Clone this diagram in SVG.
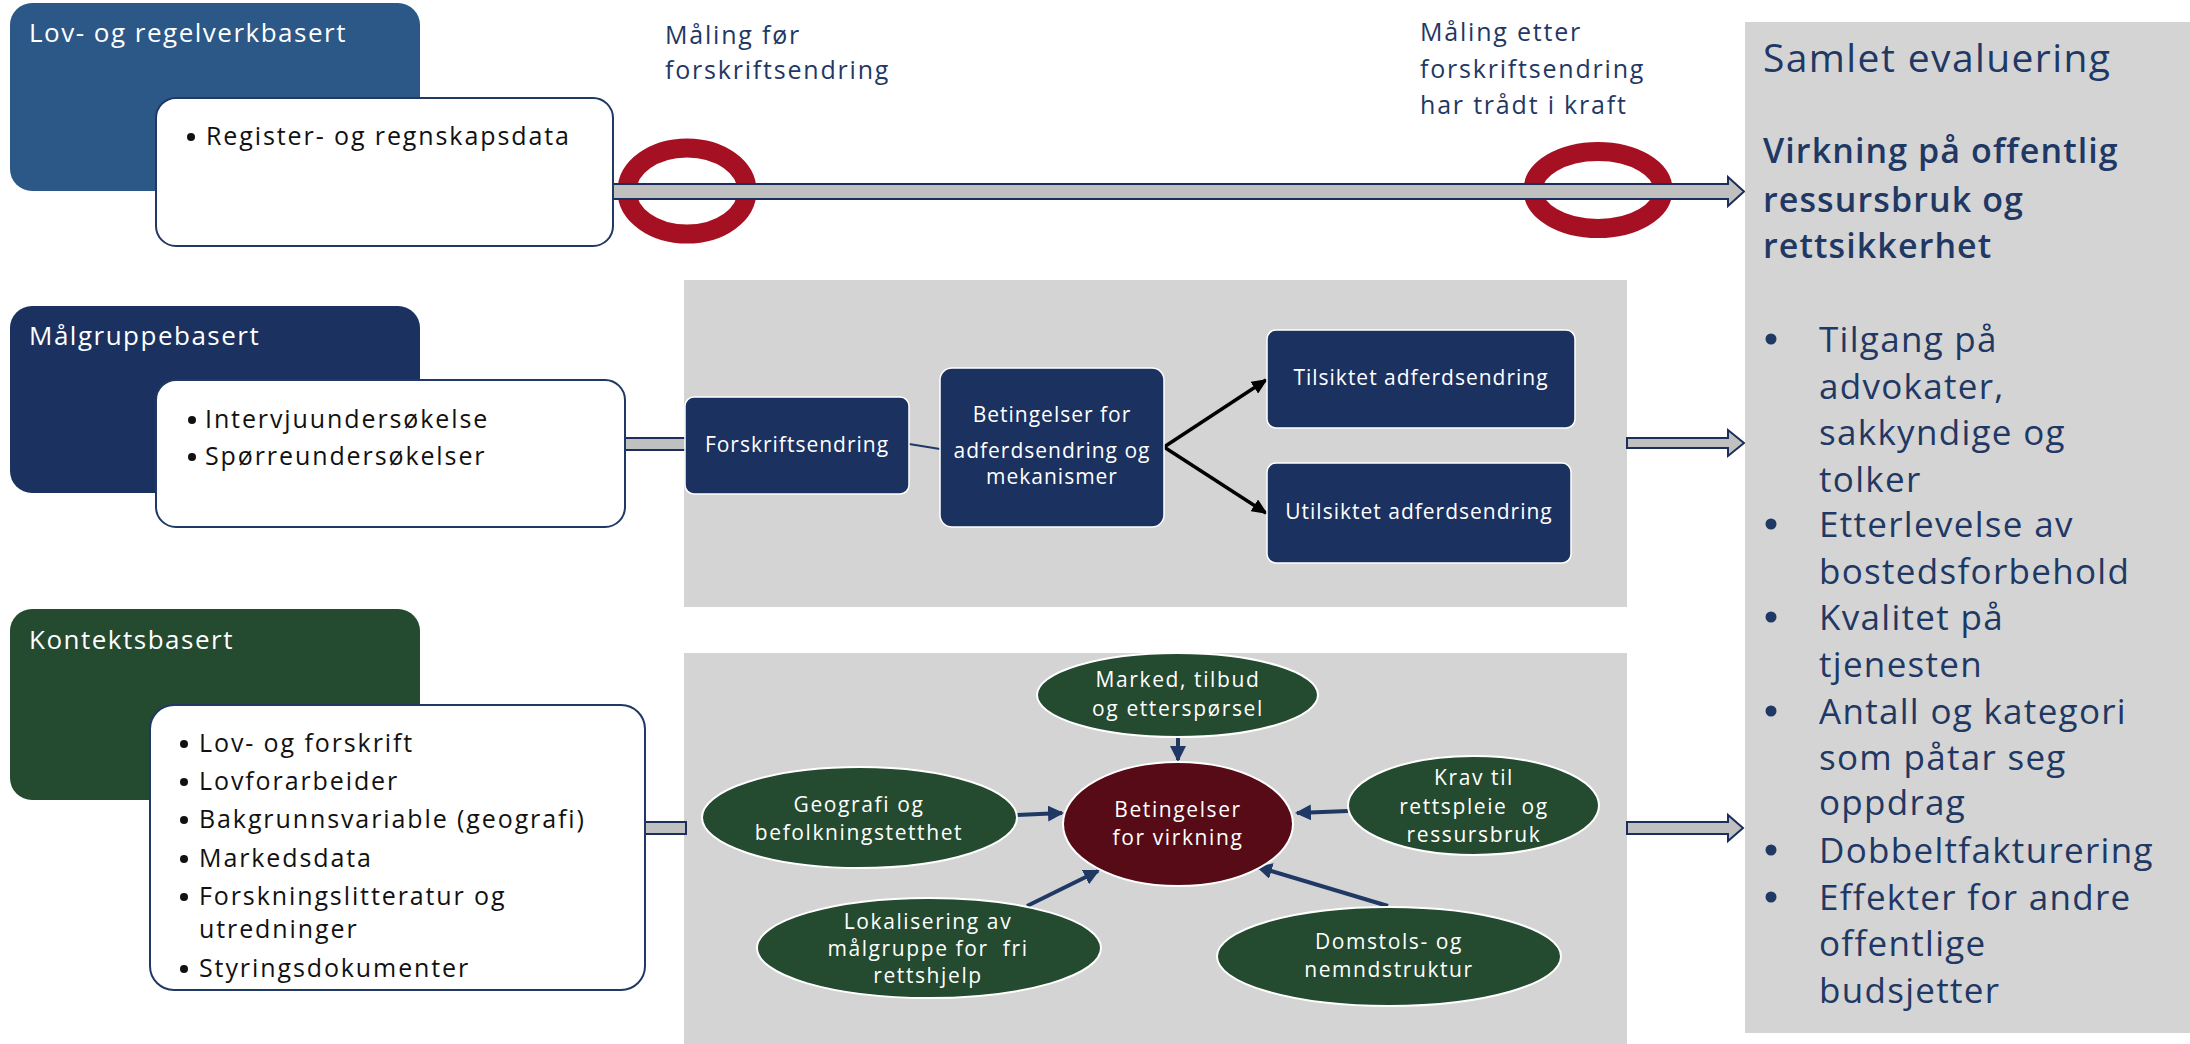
<svg xmlns="http://www.w3.org/2000/svg" width="2190" height="1044" viewBox="0 0 2190 1044">
<style>
  text { font-family: "Open Sans", "Liberation Sans", sans-serif; }
  .hdr { font-size: 26px; fill: #ffffff; letter-spacing: 1.5px; }
  .bul { font-size: 25px; fill: #111111; letter-spacing: 1.9px; }
  .dot { fill: #111111; }
  .meas { font-size: 25px; fill: #1f3864; letter-spacing: 1.8px; }
  .box { font-size: 21px; fill: #ffffff; letter-spacing: 1px; text-anchor: middle; }
  .ell { font-size: 21px; fill: #ffffff; letter-spacing: 1.6px; text-anchor: middle; }
  .rtitle { font-size: 39px; fill: #1f3864; letter-spacing: 1.4px; }
  .rhead { font-size: 34px; font-weight: 600; fill: #1f3864; letter-spacing: 1.1px; }
  .rbul { font-size: 35px; fill: #1f3864; letter-spacing: 1.3px; }
  .rdot { fill: #1f3864; }
  .whitebox { fill: #ffffff; stroke: #1f3864; stroke-width: 2; }
  .navybox { fill: #1b3160; stroke: #ffffff; stroke-width: 1.5; }
  .greenell { fill: #244a2f; stroke: #ffffff; stroke-width: 2; }
  .panel { fill: #d4d4d4; }
  .block { fill: #c0c0c0; stroke: #1b2f5a; stroke-width: 2; stroke-linejoin: miter; }
  .ring { fill: none; stroke: #a61023; stroke-width: 19; }
  .blk { stroke: #000000; stroke-width: 3.5; fill: none; }
  .nav { stroke: #1f3864; stroke-width: 4; fill: none; }
</style>
<defs>
  <marker id="ahBlack" markerUnits="userSpaceOnUse" markerWidth="16" markerHeight="14" refX="14" refY="7" orient="auto">
    <path d="M0,0 L16,7 L0,14 z" fill="#000000"/>
  </marker>
  <marker id="ahNavy" markerUnits="userSpaceOnUse" markerWidth="16" markerHeight="16" refX="14" refY="8" orient="auto">
    <path d="M0,0 L16,8 L0,16 z" fill="#1f3864"/>
  </marker>
</defs>

<rect x="0" y="0" width="2190" height="1044" fill="#ffffff"/>

<!-- panels -->
<g id="panel-malgruppe"><rect class="panel" x="684" y="280" width="943" height="327"/></g>
<g id="panel-kontekst"><rect class="panel" x="684" y="653" width="943" height="391"/></g>

<!-- measurement rings -->
<g id="maling-for">
  <ellipse class="ring" cx="687" cy="191" rx="60" ry="43"/>
  <text class="meas" x="665" y="44">Måling før</text>
  <text class="meas" x="665" y="79">forskriftsendring</text>
</g>
<g id="maling-etter">
  <ellipse class="ring" cx="1598" cy="190" rx="65" ry="38.5"/>
  <text class="meas" x="1420" y="41">Måling etter</text>
  <text class="meas" x="1420" y="78">forskriftsendring</text>
  <text class="meas" x="1420" y="114">har trådt i kraft</text>
</g>

<!-- connectors -->
<g id="connectors">
  <polygon class="block" points="613,184 1728,184 1728,177 1744,191.5 1728,206 1728,199 613,199"/>
  <polygon class="block" points="625,438 686,438 686,450 625,450"/>
  <polygon class="block" points="1627,438 1728,438 1728,430 1744,443 1728,456 1728,448 1627,448"/>
  <polygon class="block" points="645,822 686,822 686,834 645,834"/>
  <polygon class="block" points="1627,822 1728,822 1728,815 1743,828 1728,841 1728,834 1627,834"/>
  <line x1="909" y1="444" x2="940" y2="449" stroke="#1f3864" stroke-width="2"/>
  <line class="blk" x1="1164" y1="447" x2="1266" y2="380" marker-end="url(#ahBlack)"/>
  <line class="blk" x1="1164" y1="447" x2="1266" y2="513" marker-end="url(#ahBlack)"/>
  <line class="nav" x1="1178" y1="737" x2="1178" y2="760" marker-end="url(#ahNavy)"/>
  <line class="nav" x1="1017" y1="815" x2="1062" y2="813" marker-end="url(#ahNavy)"/>
  <line class="nav" x1="1348" y1="811" x2="1297" y2="813" marker-end="url(#ahNavy)"/>
  <line class="nav" x1="1027" y1="906" x2="1098" y2="871" marker-end="url(#ahNavy)"/>
  <line class="nav" x1="1388" y1="906" x2="1258" y2="867" marker-end="url(#ahNavy)"/>
</g>

<!-- left column -->
<g id="lov-regelverk">
  <rect x="10" y="3" width="410" height="188" rx="22" fill="#2b5887"/>
  <text class="hdr" x="29" y="42">Lov- og regelverkbasert</text>
</g>
<g id="lov-data">
  <rect class="whitebox" x="156" y="98" width="457" height="148" rx="20"/>
  <circle class="dot" cx="191" cy="137" r="4"/>
  <text class="bul" x="206" y="145">Register- og regnskapsdata</text>
</g>

<g id="malgruppe">
  <rect x="10" y="306" width="410" height="187" rx="22" fill="#1b3160"/>
  <text class="hdr" x="29" y="345">Målgruppebasert</text>
</g>
<g id="malgruppe-data">
  <rect class="whitebox" x="156" y="380" width="469" height="147" rx="20"/>
  <circle class="dot" cx="192" cy="420" r="4"/>
  <text class="bul" x="205" y="428">Intervjuundersøkelse</text>
  <circle class="dot" cx="192" cy="457" r="4"/>
  <text class="bul" x="205" y="465">Spørreundersøkelser</text>
</g>

<g id="kontekst">
  <rect x="10" y="609" width="410" height="191" rx="22" fill="#244a2f"/>
  <text class="hdr" x="29" y="649">Kontektsbasert</text>
</g>
<g id="kontekst-data">
  <rect class="whitebox" x="150" y="705" width="495" height="285" rx="24"/>
  <circle class="dot" cx="184" cy="744" r="4"/>
  <text class="bul" x="199" y="752">Lov- og forskrift</text>
  <circle class="dot" cx="184" cy="782" r="4"/>
  <text class="bul" x="199" y="790">Lovforarbeider</text>
  <circle class="dot" cx="184" cy="820" r="4"/>
  <text class="bul" x="199" y="828">Bakgrunnsvariable (geografi)</text>
  <circle class="dot" cx="184" cy="859" r="4"/>
  <text class="bul" x="199" y="867">Markedsdata</text>
  <circle class="dot" cx="184" cy="897" r="4"/>
  <text class="bul" x="199" y="905">Forskningslitteratur og</text>
  <text class="bul" x="199" y="938">utredninger</text>
  <circle class="dot" cx="184" cy="969" r="4"/>
  <text class="bul" x="199" y="977">Styringsdokumenter</text>
</g>

<!-- middle row boxes -->
<g id="forskriftsendring">
  <rect class="navybox" x="685" y="397" width="224" height="97" rx="9"/>
  <text class="box" x="797" y="452">Forskriftsendring</text>
</g>
<g id="betingelser-adferd">
  <rect class="navybox" x="940" y="368" width="224" height="159" rx="12"/>
  <text class="box" x="1052" y="422">Betingelser for</text>
  <text class="box" x="1052" y="458">adferdsendring og</text>
  <text class="box" x="1052" y="484">mekanismer</text>
</g>
<g id="tilsiktet">
  <rect class="navybox" x="1267" y="330" width="308" height="98" rx="9"/>
  <text class="box" x="1421" y="385">Tilsiktet adferdsendring</text>
</g>
<g id="utilsiktet">
  <rect class="navybox" x="1267" y="463" width="304" height="100" rx="9"/>
  <text class="box" x="1419" y="519">Utilsiktet adferdsendring</text>
</g>

<!-- bottom row ellipses -->
<g id="marked">
  <ellipse class="greenell" cx="1177.5" cy="695" rx="140.5" ry="42"/>
  <text class="ell" x="1178" y="687">Marked, tilbud</text>
  <text class="ell" x="1178" y="716">og etterspørsel</text>
</g>
<g id="geografi">
  <ellipse class="greenell" cx="859.5" cy="817.5" rx="157.5" ry="50.5"/>
  <text class="ell" x="859" y="812">Geografi og</text>
  <text class="ell" x="859" y="840">befolkningstetthet</text>
</g>
<g id="betingelser-virkning">
  <ellipse cx="1178" cy="824" rx="115" ry="62" fill="#560b16" stroke="#ffffff" stroke-width="2"/>
  <text class="ell" x="1178" y="817">Betingelser</text>
  <text class="ell" x="1178" y="845">for virkning</text>
</g>
<g id="krav">
  <ellipse class="greenell" cx="1473.5" cy="805.5" rx="125.5" ry="49.5"/>
  <text class="ell" x="1474" y="785">Krav til</text>
  <text class="ell" x="1474" y="814" xml:space="preserve">rettspleie  og</text>
  <text class="ell" x="1474" y="842">ressursbruk</text>
</g>
<g id="lokalisering">
  <ellipse class="greenell" cx="929" cy="948" rx="172" ry="50"/>
  <text class="ell" x="928" y="929">Lokalisering av</text>
  <text class="ell" x="928" y="956" xml:space="preserve">målgruppe for  fri</text>
  <text class="ell" x="928" y="983">rettshjelp</text>
</g>
<g id="domstols">
  <ellipse class="greenell" cx="1389" cy="956.5" rx="172" ry="49.5"/>
  <text class="ell" x="1389" y="949">Domstols- og</text>
  <text class="ell" x="1389" y="977">nemndstruktur</text>
</g>

<!-- right panel -->
<g id="samlet-evaluering">
  <rect class="panel" x="1745" y="22" width="445" height="1011"/>
  <text class="rtitle" x="1763" y="72">Samlet evaluering</text>
  <text class="rhead" x="1763" y="163">Virkning på offentlig</text>
  <text class="rhead" x="1763" y="212">ressursbruk og</text>
  <text class="rhead" x="1763" y="258">rettsikkerhet</text>
  <circle class="rdot" cx="1771" cy="339" r="5.5"/>
  <text class="rbul" x="1819" y="352">Tilgang på</text>
  <text class="rbul" x="1819" y="398.5">advokater,</text>
  <text class="rbul" x="1819" y="445">sakkyndige og</text>
  <text class="rbul" x="1819" y="491.5">tolker</text>
  <circle class="rdot" cx="1771" cy="524" r="5.5"/>
  <text class="rbul" x="1819" y="537">Etterlevelse av</text>
  <text class="rbul" x="1819" y="584">bostedsforbehold</text>
  <circle class="rdot" cx="1771" cy="617" r="5.5"/>
  <text class="rbul" x="1819" y="630">Kvalitet på</text>
  <text class="rbul" x="1819" y="677">tjenesten</text>
  <circle class="rdot" cx="1771" cy="711" r="5.5"/>
  <text class="rbul" x="1819" y="724">Antall og kategori</text>
  <text class="rbul" x="1819" y="770">som påtar seg</text>
  <text class="rbul" x="1819" y="815">oppdrag</text>
  <circle class="rdot" cx="1771" cy="850" r="5.5"/>
  <text class="rbul" x="1819" y="863">Dobbeltfakturering</text>
  <circle class="rdot" cx="1771" cy="897" r="5.5"/>
  <text class="rbul" x="1819" y="910">Effekter for andre</text>
  <text class="rbul" x="1819" y="956">offentlige</text>
  <text class="rbul" x="1819" y="1003">budsjetter</text>
</g>
</svg>
